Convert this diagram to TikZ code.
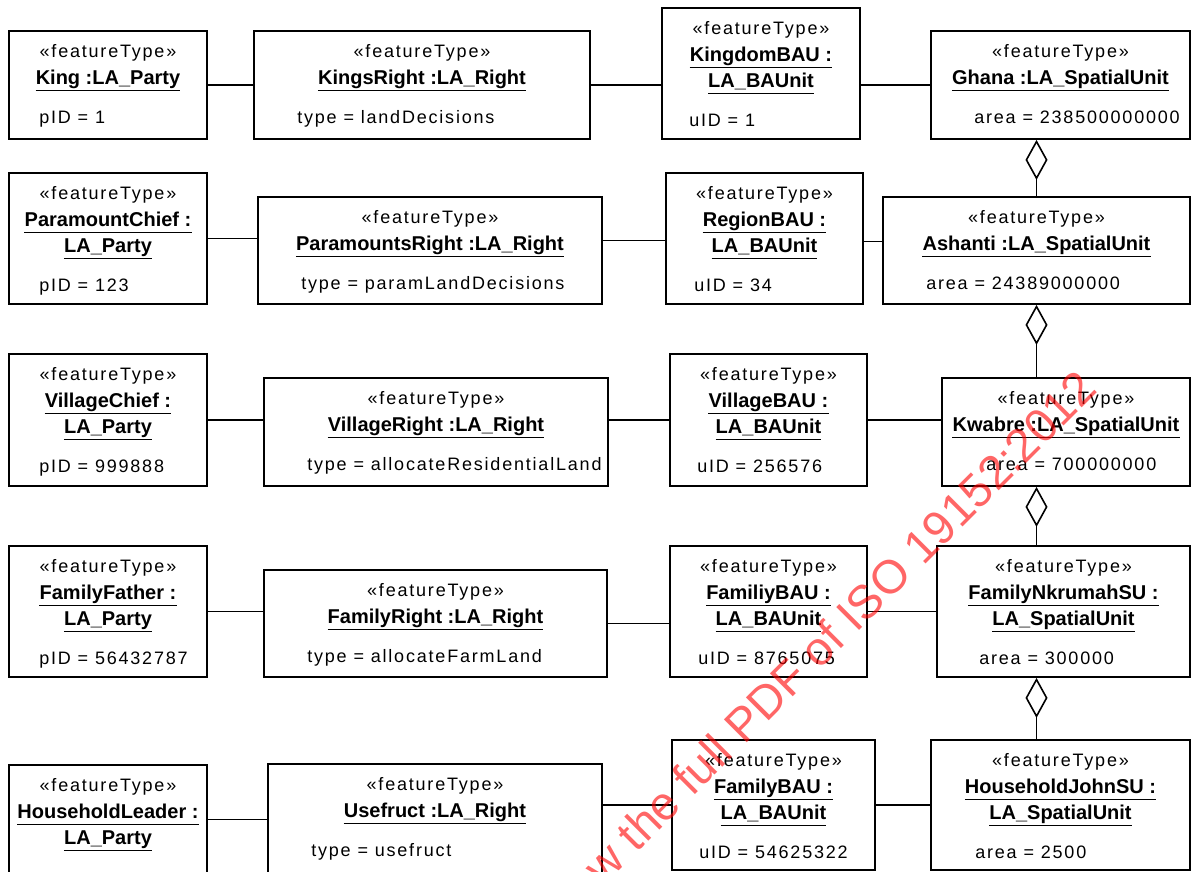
\documentclass[tikz,border=0pt]{standalone}
\usepackage{fontspec}
\setmainfont{Liberation Sans}
\newfontfamily\spacedfont{Liberation Sans}[LetterSpace=10]
\usetikzlibrary{arrows.meta,calc}

% one object box: id, x1, y1, x2, y2, name line 1, name line 2, indent, attribute
\newcommand{\fobj}[9]{%
  \node[objbox, minimum width={(#4-#2)*1pt}, minimum height={(#5-#3)*1pt}] (#1) at ({(#2+#4)/2},{(#3+#5)/2}) {};
  \node[stereo] (#1-st) at ([yshift=-27pt]#1.north) {«featureType»};
  \node[oname] (#1-n1) at ([yshift=-54pt]#1.north) {#6};
  \draw[uline] (#1-n1.south west) -- (#1-n1.south east);
  \if\relax\detokenize{#7}\relax
    \coordinate (#1-last) at (#1-n1.base);
  \else
    \node[oname] (#1-n2) at ([yshift=-80pt]#1.north) {#7};
    \draw[uline] (#1-n2.south west) -- (#1-n2.south east);
    \coordinate (#1-last) at (#1-n2.base);
  \fi
  \if\relax\detokenize{#9}\relax\else
    \node[attr] (#1-at) at ($(#1.west |- #1-last)+(#8,39)$) {#9};
  \fi}

\begin{document}
\begin{tikzpicture}[x=1pt,y=-1pt,
  objbox/.style={draw,line width=1.8pt,inner sep=0pt},
  stereo/.style={anchor=base,inner sep=0pt,font=\spacedfont\fontsize{18}{21}\selectfont},
  oname/.style={anchor=base,inner sep=0pt,text depth=6pt,font=\bfseries\fontsize{20}{23}\selectfont},
  attr/.style={anchor=base west,inner sep=0pt,font=\spacedfont\fontsize{18}{21}\selectfont},
  uline/.style={line width=1.5pt},
  link/.style={line width=1.6pt},
  agg/.style={line width=1.6pt,-{Diamond[open,length=40pt,width=22pt]}},
  watermark/.style={inner sep=0pt,text=red,text opacity=0.6,font=\fontsize{47}{50}\selectfont}]
\path[fill=white,use as bounding box] (0,0) rectangle (1193,872);
\clip (0,0) rectangle (1193,872);

% row 1
\fobj{king}{9}{31}{207}{139}{King :LA\_Party}{}{31}{pID = 1}
\fobj{kingsright}{254}{31}{590}{139}{KingsRight :LA\_Right}{}{44}{type = landDecisions}
\fobj{kingdombau}{662}{8}{860}{139}{KingdomBAU :}{LA\_BAUnit}{28}{uID = 1}
\fobj{ghana}{931}{31}{1190}{139}{Ghana :LA\_SpatialUnit}{}{44}{area = 238500000000}
\draw[link] (king.east) -- (kingsright.west);
\draw[link] (kingsright.east) -- (kingsright.east -| kingdombau.west);
\draw[link] (ghana.west -| kingdombau.east) -- (ghana.west);

% row 2
\fobj{paramountchief}{9}{173}{207}{304}{ParamountChief :}{LA\_Party}{31}{pID = 123}
\fobj{paramountsright}{258}{197}{602}{304}{ParamountsRight :LA\_Right}{}{44}{type = paramLandDecisions}
\fobj{regionbau}{666}{173}{863}{304}{RegionBAU :}{LA\_BAUnit}{29}{uID = 34}
\fobj{ashanti}{883}{197}{1190}{304}{Ashanti :LA\_SpatialUnit}{}{44}{area = 24389000000}
\draw[link] (paramountchief.east) -- (paramountchief.east -| paramountsright.west);
\draw[link] ([yshift=-2pt]regionbau.west -| paramountsright.east) -- ([yshift=-2pt]regionbau.west);
\draw[link] ([yshift=-3pt]regionbau.east) -- ([yshift=-3pt]regionbau.east -| ashanti.west);

% row 3
\fobj{villagechief}{9}{354}{207}{486}{VillageChief :}{LA\_Party}{31}{pID = 999888}
\fobj{villageright}{264}{378}{608}{486}{VillageRight :LA\_Right}{}{44}{type = allocateResidentialLand}
\fobj{villagebau}{670}{354}{867}{486}{VillageBAU :}{LA\_BAUnit}{28}{uID = 256576}
\fobj{kwabre}{942}{378}{1190}{486}{Kwabre :LA\_SpatialUnit}{}{45}{area = 700000000}
\draw[link] (villagechief.east) -- (villagechief.east -| villageright.west);
\draw[link] (villagebau.west -| villageright.east) -- (villagebau.west);
\draw[link] (villagebau.east) -- (villagebau.east -| kwabre.west);

% row 4
\fobj{familyfather}{9}{546}{207}{677}{FamilyFather :}{LA\_Party}{31}{pID = 56432787}
\fobj{familyright}{264}{570}{607}{677}{FamilyRight :LA\_Right}{}{44}{type = allocateFarmLand}
\fobj{familiybau}{670}{546}{867}{677}{FamiliyBAU :}{LA\_BAUnit}{29}{uID = 8765075}
\fobj{familynkrumah}{937}{546}{1190}{677}{FamilyNkrumahSU :}{LA\_SpatialUnit}{43}{area = 300000}
\draw[link] (familyfather.east) -- (familyfather.east -| familyright.west);
\draw[link] (familyright.east) -- (familyright.east -| familiybau.west);
\draw[link] (familiybau.east) -- (familiybau.east -| familynkrumah.west);

% row 5
\fobj{householdleader}{9}{765}{207}{874}{HouseholdLeader :}{LA\_Party}{31}{}
\fobj{usefruct}{268}{764}{602}{874}{Usefruct :LA\_Right}{}{44}{type = usefruct}
\fobj{familybau}{672}{740}{875}{870}{FamilyBAU :}{LA\_BAUnit}{28}{uID = 54625322}
\fobj{householdjohn}{931}{740}{1190}{870}{HouseholdJohnSU :}{LA\_SpatialUnit}{45}{area = 2500}
\draw[link] (householdleader.east) -- (householdleader.east -| usefruct.west);
\draw[link] (familybau.west -| usefruct.east) -- (familybau.west);
\draw[link] (familybau.east) -- (familybau.east -| householdjohn.west);

% spatial unit hierarchy
\draw[agg] (ashanti.north) -- (ashanti.north |- ghana.south);
\draw[agg] (kwabre.north -| ashanti.south) -- (ashanti.south);
\draw[agg] (familynkrumah.north -| ashanti.south) -- (kwabre.south -| ashanti.south);
\draw[agg] (householdjohn.north -| ashanti.south) -- (familynkrumah.south -| ashanti.south);

\node[watermark,rotate=45,anchor=base east] (wm) at (1099,391) {Click to view the full PDF of ISO 19152:2012};
\end{tikzpicture}
\end{document}
